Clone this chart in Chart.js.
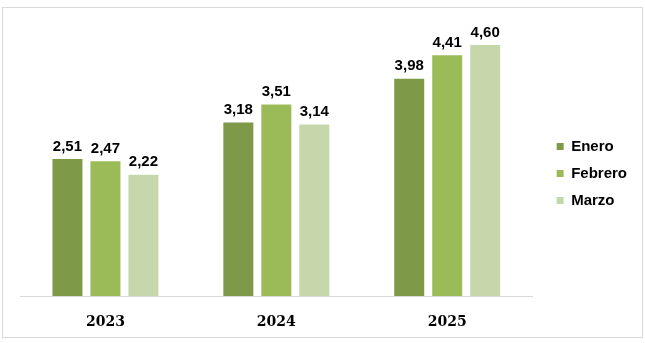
<!DOCTYPE html>
<html>
<head>
<meta charset="utf-8">
<script src="https://cdn.jsdelivr.net/npm/chart.js@4"></script>
<style>
  html, body { margin: 0; padding: 0; background: #fff; }
  #wrap { width: 645px; height: 343px; }
</style>
</head>
<body>
<div id="wrap"><canvas id="chart" width="645" height="343"></canvas></div>
<script>
// Data
const years = ['2023', '2024', '2025'];
const enero = [2.51, 3.18, 3.98];
const febrero = [2.47, 3.51, 4.41];
const marzo = [2.22, 3.14, 4.60];

// Frame around the whole chart
const framePlugin = {
  id: 'frame',
  beforeDraw(chart) {
    const ctx = chart.ctx;
    ctx.save();
    ctx.fillStyle = '#fff';
    ctx.fillRect(0, 0, chart.width, chart.height);
    ctx.strokeStyle = '#d9d9d9';
    ctx.lineWidth = 1;
    ctx.strokeRect(2.5, 7.5, 640, 330);
    ctx.restore();
  }
};

// Value labels on top of the bars, comma as decimal separator
const valueLabels = {
  id: 'valueLabels',
  afterDatasetsDraw(chart) {
    const ctx = chart.ctx;
    ctx.save();
    ctx.font = 'bold 15px "Liberation Sans", Arial, sans-serif';
    ctx.fillStyle = '#000';
    ctx.textAlign = 'center';
    ctx.textBaseline = 'bottom';
    chart.data.datasets.forEach((ds, i) => {
      chart.getDatasetMeta(i).data.forEach((bar, j) => {
        ctx.fillText(ds.data[j].toFixed(2).replace('.', ','), bar.x, bar.y - 5);
      });
    });
    ctx.restore();
  }
};

const ctx = document.getElementById('chart').getContext('2d');
new Chart(ctx, {
  type: 'bar',
  data: {
    labels: years,
    datasets: [
      { label: 'Enero', data: enero, backgroundColor: '#7e9a48' },
      { label: 'Febrero', data: febrero, backgroundColor: '#9bbb59' },
      { label: 'Marzo', data: marzo, backgroundColor: '#c6d7ac' }
    ]
  },
  options: {
    responsive: false,
    animation: false,
    categoryPercentage: 0.667,
    barPercentage: 0.79,
    layout: { padding: { left: 20, right: 8, top: 4, bottom: 0 } },
    plugins: {
      legend: {
        position: 'right',
        labels: {
          boxWidth: 7,
          boxHeight: 7,
          padding: 12,
          color: '#000',
          font: { family: '"Liberation Sans", Arial, sans-serif', size: 15, weight: 'bold' }
        }
      },
      tooltip: { enabled: false }
    },
    scales: {
      x: {
        grid: { display: false, drawTicks: false },
        border: { color: '#d9d9d9', width: 1 },
        ticks: {
          color: '#000',
          padding: 18,
          font: { family: '"DejaVu Serif", serif', size: 14, weight: 'bold' }
        },
        afterFit(scale) { scale.height = 47; }
      },
      y: {
        position: 'right',
        min: 0,
        max: 5.35,
        grid: { display: false },
        border: { display: false },
        ticks: { display: false },
        afterFit(scale) { scale.width = 12; }
      }
    }
  },
  plugins: [framePlugin, valueLabels]
});
</script>
</body>
</html>
